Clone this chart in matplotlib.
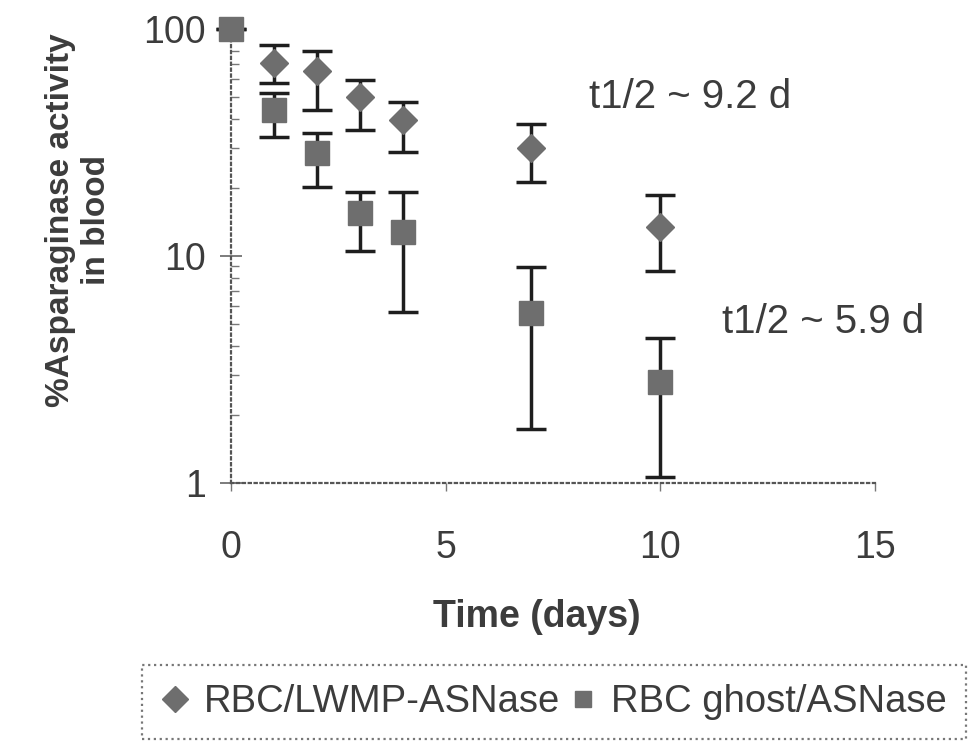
import matplotlib
matplotlib.use('Agg')
import matplotlib.pyplot as plt
from matplotlib.lines import Line2D
from matplotlib.ticker import LogLocator, NullFormatter

plt.rcParams['font.family'] = ['Liberation Sans', 'DejaVu Sans']

# RBC/LWMP-ASNase (diamonds)
lwmp_days = [1, 2, 3, 4, 7, 10]
lwmp_mean = [71, 65, 50, 39.7, 29.9, 13.4]
lwmp_hi = [85, 80, 59.6, 47.7, 38.1, 18.6]
lwmp_lo = [58, 44, 35.9, 28.7, 21.2, 8.6]

# RBC ghost/ASNase (squares)
ghost_days = [0, 1, 2, 3, 4, 7, 10]
ghost_mean = [100, 44, 28.4, 15.5, 12.8, 5.6, 2.79]
ghost_hi = [100, 52, 34.8, 19.1, 19.1, 8.95, 4.35]
ghost_lo = [100, 33.4, 20.1, 10.5, 5.67, 1.73, 1.06]

txt = '#3c3c3c'
mark = '#6e6e6e'

fig = plt.figure(figsize=(9.68, 7.42), dpi=100)
ax = fig.add_axes([0.2386, 0.349, 0.665, 0.612])

def yerr(mean, lo, hi):
    return [[m - l for m, l in zip(mean, lo)], [h - m for m, h in zip(mean, hi)]]

ax.errorbar(lwmp_days, lwmp_mean, yerr=yerr(lwmp_mean, lwmp_lo, lwmp_hi),
            fmt='D', ms=14, mfc=mark, mec=mark, ecolor='#1e1e1e',
            elinewidth=2.5, capsize=11, capthick=2.5, clip_on=False, zorder=3)
ax.errorbar(ghost_days, ghost_mean, yerr=yerr(ghost_mean, ghost_lo, ghost_hi),
            fmt='s', ms=17, mfc=mark, mec=mark, ecolor='#1e1e1e',
            elinewidth=2.5, capsize=11, capthick=2.5, clip_on=False, zorder=3)

ax.set_yscale('log')
ax.set_ylim(1, 100)
ax.set_xlim(0, 15)

for s in ['top', 'right']:
    ax.spines[s].set_visible(False)
for s in ['left', 'bottom']:
    ax.spines[s].set_linestyle(':')
    ax.spines[s].set_linewidth(1.6)
    ax.spines[s].set_color('#555555')

ax.set_xticks([0, 5, 10, 15])
ax.set_xticklabels(['0', '5', '10', '15'])
ax.set_yticks([1, 10, 100])
ax.set_yticklabels(['1', '10', '100'])
ax.yaxis.set_minor_locator(LogLocator(base=10, subs=range(2, 10)))
ax.yaxis.set_minor_formatter(NullFormatter())

ax.tick_params(axis='y', which='major', direction='inout', length=16, width=1.2,
               color='#666666', labelsize=27, labelcolor=txt, pad=10)
ax.tick_params(axis='y', which='minor', direction='in', length=6, width=1.0,
               color='#777777')
ax.tick_params(axis='x', which='major', direction='out', length=6, width=1.0,
               color='#777777', labelsize=27, labelcolor=txt, pad=28)

ax.set_xlabel('Time (days)', fontsize=27, fontweight='bold', color=txt)
ax.xaxis.set_label_coords(0.475, -0.255)
ax.set_ylabel('%Asparaginase activity\nin blood', fontsize=24, fontweight='bold',
              color=txt, linespacing=1.2)
ax.yaxis.set_label_coords(-0.185, 0.58)

ax.text(8.35, 50, 't1/2 ~ 9.2 d', fontsize=29, color=txt, va='center')
ax.text(11.45, 5.1, 't1/2 ~ 5.9 d', fontsize=29, color=txt, va='center')

handles = [Line2D([], [], marker='D', ls='none', ms=13, mfc=mark, mec=mark),
           Line2D([], [], marker='s', ls='none', ms=11, mfc=mark, mec=mark)]
leg = fig.legend(handles, ['RBC/LWMP-ASNase', 'RBC ghost/ASNase'],
                 loc='upper left', bbox_to_anchor=(0.147, 0.104), ncol=2,
                 fontsize=27.5, frameon=True, fancybox=False, handlelength=0.7,
                 handletextpad=0.4, columnspacing=0.25, borderpad=0.5,
                 borderaxespad=0)
for t in leg.get_texts():
    t.set_color(txt)
fr = leg.get_frame()
fr.set_linestyle(':')
fr.set_edgecolor('#555555')
fr.set_linewidth(1.6)

fig.savefig('out.png', dpi=100)
